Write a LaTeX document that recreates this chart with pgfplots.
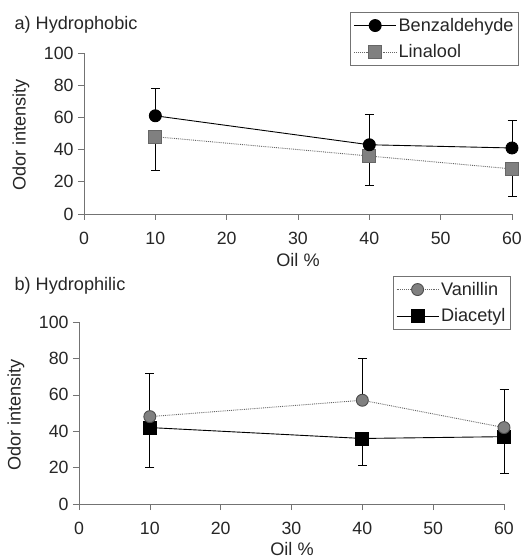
\documentclass[border=0pt]{standalone}
\usepackage{fontspec}
\setmainfont{Liberation Sans}
\usepackage{pgfplots}
\pgfplotsset{compat=1.18}
\definecolor{axgray}{gray}{0.45}
\definecolor{mkgray}{gray}{0.5}
\definecolor{lngray}{gray}{0.4}
\newcommand{\ff}{\fontsize{18.2}{21}\selectfont}
\pgfplotsset{
  myax/.style={
    scale only axis, clip=false,
    axis x line=bottom, axis y line=left,
    xmin=0, xmax=60, ymin=0, ymax=100,
    xtick={0,10,...,60}, ytick={0,20,...,100},
    tick align=outside, major tick length=6bp,
    tick style={axgray, line width=0.6pt},
    axis line style={-, axgray, line width=0.6pt},
    /pgf/number format/assume math mode=true,
    ticklabel style={font=\fontsize{17.8}{21}\selectfont, text=black!85},
    xticklabel style={yshift=-12bp, inner sep=0pt},
    yticklabel style={xshift=-1bp},
    legend cell align=left,
    legend style={draw=axgray, line width=0.6pt, font=\ff, text=black!85,
      anchor=north east, inner xsep=3bp, inner ysep=4bp, row sep=8bp,
      /tikz/every even column/.style={column sep=1bp}},
    legend image code/.code={\draw[mark repeat=2,mark phase=2,##1] plot coordinates {(0bp,0bp) (21bp,0bp) (42bp,0bp)};},
    error bars/error bar style={solid, black, line width=0.9pt},
    error bars/error mark options={rotate=90, mark size=4.5bp, black, solid, line width=0.9pt},
  },
  benz/.style={black, solid, line width=0.9pt, mark=*, mark size=6bp, mark options={solid, fill=black, draw=black}},
  lina/.style={lngray, densely dotted, line width=0.9pt, mark=square*, mark size=6.5bp, mark options={solid, fill=mkgray, draw=mkgray!80!black}},
  vani/.style={lngray, densely dotted, line width=0.9pt, mark=*, mark size=6bp, mark options={solid, fill=mkgray, draw=black!70}},
  diac/.style={black, solid, line width=0.9pt, mark=square*, mark size=6.5bp, mark options={solid, fill=black, draw=black}},
}
\begin{document}
\begin{tikzpicture}
\begin{axis}[myax, at={(84bp,345bp)}, anchor=south west, width=428bp, height=161bp]
\addplot[lina, error bars/.cd, y dir=minus, y explicit] coordinates {(10,48) -= (0,21) (40,36) -= (0,18) (60,28) -= (0,17)};
\addplot[benz, error bars/.cd, y dir=plus, y explicit] coordinates {(10,61) += (0,17) (40,43) += (0,19) (60,41) += (0,17)};
\end{axis}
\begin{axis}[myax, at={(84bp,345bp)}, anchor=south west, width=428bp, height=161bp,
  hide axis, legend style={at={(1.016,1.255)}}]
\addlegendimage{benz}\addlegendentry{Benzaldehyde}
\addlegendimage{lina}\addlegendentry{Linalool}
\end{axis}
\begin{axis}[myax, at={(79bp,55bp)}, anchor=south west, width=425bp, height=182bp]
\addplot[diac, error bars/.cd, y dir=minus, y explicit] coordinates {(10,42) -= (0,22) (40,36) -= (0,15) (60,37) -= (0,20)};
\addplot[vani, error bars/.cd, y dir=plus, y explicit] coordinates {(10,48) += (0,24) (40,57) += (0,23) (60,42) += (0,21)};
\end{axis}
\begin{axis}[myax, at={(79bp,55bp)}, anchor=south west, width=425bp, height=182bp,
  hide axis, legend style={at={(1.016,1.253)}}]
\addlegendimage{vani}\addlegendentry{Vanillin}
\addlegendimage{diac}\addlegendentry{Diacetyl}
\end{axis}
\node[anchor=west, font=\ff, text=black!85] at (11bp,534bp) {a) Hydrophobic};
\node[anchor=west, font=\ff, text=black!85] at (11bp,273bp) {b) Hydrophilic};
\node[font=\ff, text=black!85, rotate=90] at (21bp,424bp) {Odor intensity};
\node[font=\ff, text=black!85, rotate=90] at (16bp,144bp) {Odor intensity};
\node[font=\ff, text=black!85, inner sep=0pt] at (298bp,299bp) {Oil \%};
\node[font=\ff, text=black!85, inner sep=0pt] at (292bp,9.5bp) {Oil \%};
\pgfresetboundingbox
\path[use as bounding box] (0,0) rectangle (529bp,559bp);
\end{tikzpicture}
\end{document}
